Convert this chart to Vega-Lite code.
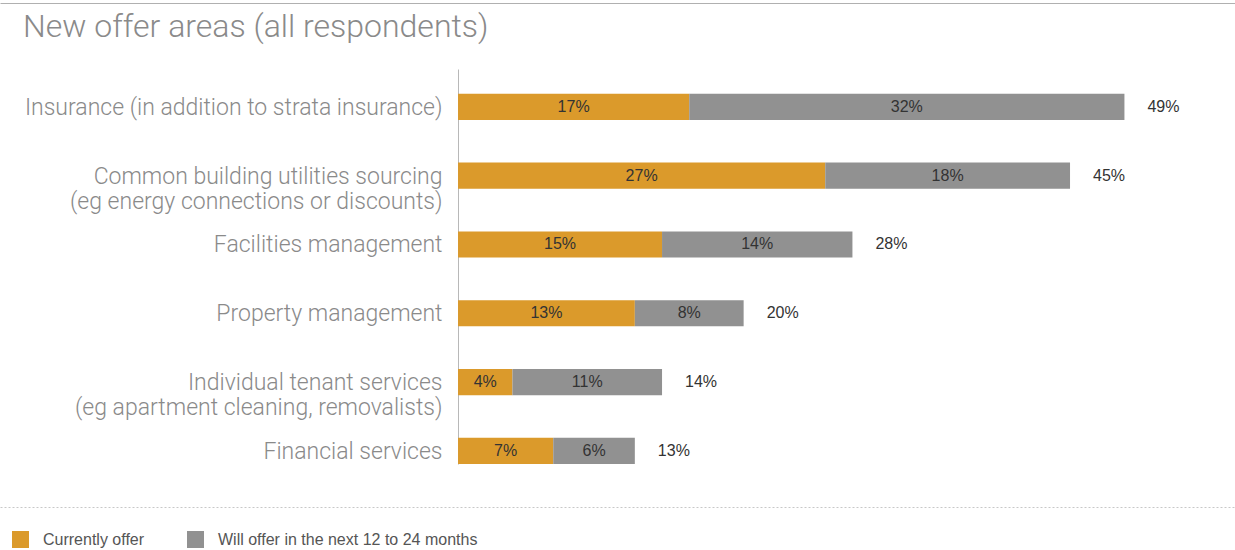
{
  "$schema": "https://vega.github.io/schema/vega-lite/v6.json",
  "autosize": {"type": "none"},
  "padding": {"left": 0, "top": 69, "right": 0, "bottom": 86},
  "width": 1235,
  "height": 395,
  "background": "white",
  "title": {
    "text": "New offer areas (all respondents)",
    "anchor": "start",
    "frame": "group",
    "font": "Roboto",
    "fontWeight": 300,
    "fontSize": 32,
    "color": "#8a8a8a",
    "dx": 23,
    "baseline": "alphabetic",
    "dy": 70
  },
  "config": {
    "view": {"stroke": null},
    "font": "Roboto"
  },
  "data": {
    "values": [
      {"category": "Insurance (in addition to strata insurance)", "series": "Currently offer", "value": 17, "total": 49},
      {"category": "Insurance (in addition to strata insurance)", "series": "Will offer in the next 12 to 24 months", "value": 32, "total": 49},
      {"category": "Common building utilities sourcing|(eg energy connections or discounts)", "series": "Currently offer", "value": 27, "total": 45},
      {"category": "Common building utilities sourcing|(eg energy connections or discounts)", "series": "Will offer in the next 12 to 24 months", "value": 18, "total": 45},
      {"category": "Facilities management", "series": "Currently offer", "value": 15, "total": 28},
      {"category": "Facilities management", "series": "Will offer in the next 12 to 24 months", "value": 14, "total": 28},
      {"category": "Property management", "series": "Currently offer", "value": 13, "total": 20},
      {"category": "Property management", "series": "Will offer in the next 12 to 24 months", "value": 8, "total": 20},
      {"category": "Individual tenant services|(eg apartment cleaning, removalists)", "series": "Currently offer", "value": 4, "total": 14},
      {"category": "Individual tenant services|(eg apartment cleaning, removalists)", "series": "Will offer in the next 12 to 24 months", "value": 11, "total": 14},
      {"category": "Financial services", "series": "Currently offer", "value": 7, "total": 13},
      {"category": "Financial services", "series": "Will offer in the next 12 to 24 months", "value": 6, "total": 13}
    ]
  },
  "transform": [
    {"stack": "value", "groupby": ["category"], "sort": [{"field": "series", "order": "ascending"}], "as": ["x0", "x1"]},
    {"calculate": "(datum.x0 + datum.x1) / 2", "as": "mid"},
    {"calculate": "datum.value + '%'", "as": "valueLabel"},
    {"calculate": "datum.total + '%'", "as": "totalLabel"}
  ],
  "encoding": {
    "y": {
      "field": "category",
      "type": "nominal",
      "sort": null,
      "scale": {"paddingInner": 0.62, "paddingOuter": 0.18, "align": 1},
      "axis": {
        "orient": "left",
        "offset": -458,
        "domain": true,
        "domainColor": "#b8b8b8",
        "ticks": false,
        "grid": false,
        "title": null,
        "labelExpr": "split(datum.label, '|')",
        "labelFont": "Roboto",
        "labelFontWeight": 300,
        "labelFontSize": 23,
        "labelColor": "#8a8a8a",
        "labelPadding": 16,
        "labelLineHeight": 25,
        "labelBaseline": "alphabetic",
        "labelOffset": 8,
        "labelLimit": 0
      }
    }
  },
  "layer": [
    {
      "mark": {"type": "bar"},
      "encoding": {
        "x": {
          "field": "x0",
          "type": "quantitative",
          "scale": {"domain": [-33.68, 57.13], "zero": false, "nice": false},
          "axis": {
            "orient": "bottom",
            "offset": 43,
            "domain": true,
            "domainColor": "#c8c8c8",
            "domainDash": [2, 2],
            "domainWidth": 1,
            "ticks": false,
            "labels": false,
            "grid": false,
            "title": null
          }
        },
        "x2": {"field": "x1"},
        "color": {
          "field": "series",
          "type": "nominal",
          "scale": {
            "domain": ["Currently offer", "Will offer in the next 12 to 24 months"],
            "range": ["#DB9A2B", "#919191"]
          },
          "legend": {
            "title": null,
            "orient": "none",
            "direction": "horizontal",
            "legendX": 12,
            "legendY": 462,
            "symbolType": "square",
            "symbolSize": 289,
            "symbolStrokeWidth": 0,
            "labelFont": "Liberation Sans",
            "labelFontSize": 16,
            "labelColor": "#555555",
            "labelOffset": 14,
            "labelLimit": 500,
            "columnPadding": 42,
            "symbolOpacity": 1
          }
        }
      }
    },
    {
      "mark": {"type": "text", "font": "Liberation Sans", "fontSize": 16, "color": "#333333", "align": "center", "baseline": "middle"},
      "encoding": {
        "x": {"field": "mid", "type": "quantitative", "axis": null},
        "text": {"field": "valueLabel"}
      }
    },
    {
      "transform": [{"filter": "datum.series == 'Will offer in the next 12 to 24 months'"}],
      "mark": {"type": "text", "font": "Liberation Sans", "fontSize": 16, "color": "#333333", "align": "left", "baseline": "middle", "dx": 23},
      "encoding": {
        "x": {
          "field": "x1",
          "type": "quantitative",
          "axis": {
            "orient": "top",
            "offset": 66,
            "domain": true,
            "domainColor": "#b0b0b0",
            "domainWidth": 1,
            "ticks": false,
            "labels": false,
            "grid": false,
            "title": null
          }
        },
        "text": {"field": "totalLabel"}
      }
    }
  ],
  "resolve": {"axis": {"x": "independent"}}
}
